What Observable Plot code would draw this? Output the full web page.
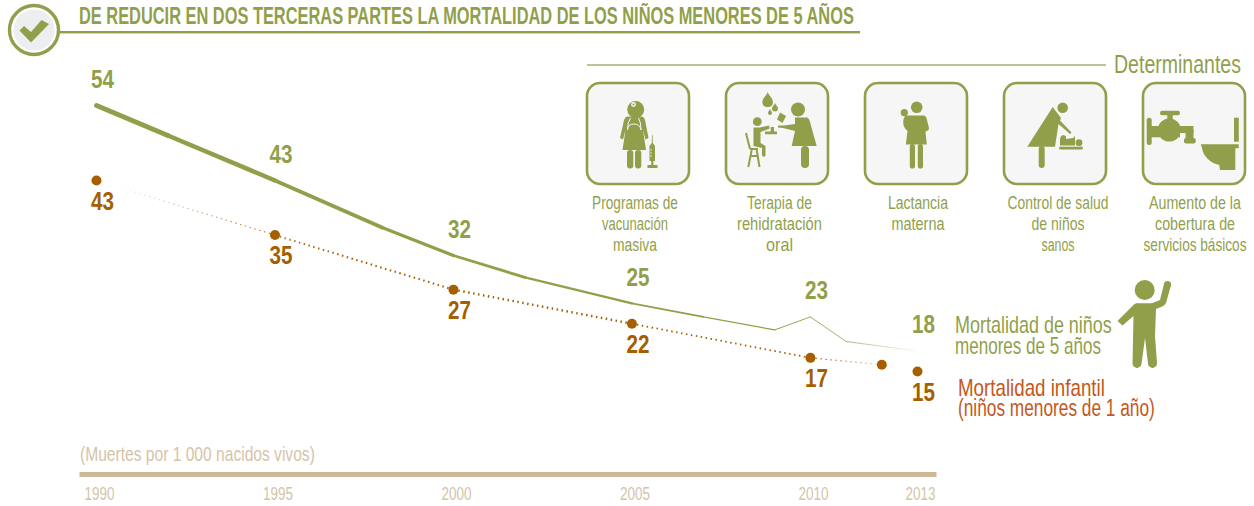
<!DOCTYPE html>
<html lang="es">
<head>
<meta charset="utf-8">
<style>
html,body{margin:0;padding:0;background:#fff}
svg{display:block}
</style>
<script src="https://cdn.jsdelivr.net/npm/d3@7"></script>
<script src="https://cdn.jsdelivr.net/npm/@observablehq/plot@0.6"></script>
</head>
<body>
<div id="chart"></div>
<script>
const childYears  = [1990, 1992, 1995, 1998, 2000, 2002, 2005, 2007, 2009, 2010, 2011, 2013];
const childValues = [54, 49.6, 43, 36.1, 32, 28.8, 25, 23, 21.1, 23, 19.4, 18];
const infantYears  = [1990, 1995, 2000, 2005, 2010, 2012, 2013];
const infantValues = [43, 35, 27, 22, 17, 16, 15];
const labelYears = [1990, 1995, 2000, 2005, 2010, 2013];
const childLabels  = [54, 43, 32, 25, 23, 18];
const infantLabels = [43, 35, 27, 22, 17, 15];
const tickYears = [1990, 1995, 2000, 2005, 2010, 2013];
const titleText = "DE REDUCIR EN DOS TERCERAS PARTES LA MORTALIDAD DE LOS NIÑOS MENORES DE 5 AÑOS";
const unitText = "(Muertes por 1 000 nacidos vivos)";
const determinantsText = "Determinantes";
const determinantLabels = [
  ["Programas de", "vacunación", "masiva"],
  ["Terapia de", "rehidratación", "oral"],
  ["Lactancia", "materna"],
  ["Control de salud", "de niños", "sanos"],
  ["Aumento de la", "cobertura de", "servicios básicos"]
];
const childSeriesLabel = ["Mortalidad de niños", "menores de 5 años"];
const infantSeriesLabel = ["Mortalidad infantil", "(niños menores de 1 año)"];

const GREEN = "#919f4b", BROWN = "#a65f00", ORANGE = "#c4571b", TAN = "#cbb998", TANTXT = "#d2c5a9";
const FONT = "'Liberation Sans',Arial,sans-serif";

const childWidth = d3.scaleLinear([1990, 1995, 2000, 2005, 2009, 2013], [5, 4.2, 3, 2, 1, .9]);
const infantWidth = d3.scaleLinear([1990, 1995, 2000, 2005, 2010, 2013], [.7, 1.6, 2.6, 2.2, 1.4, 1]);

const segments = (xs, ys, w) => d3.pairs(xs.map((x, i) => ({x, y: ys[i]})))
  .map(([a, b]) => ({x1: a.x, y1: a.y, x2: b.x, y2: b.y, w: w((a.x + b.x) / 2)}));

const svgText = (x, y, s, size, color, o = {}) =>
  `<text transform="translate(${x},${y})" font-size="${size}" fill="${color}" text-anchor="${o.anchor || "start"}" font-weight="${o.weight || 400}"` +
  (o.len ? ` data-len="${o.len}"` : "") + `>${s}</text>`;

function gradient(id, color, stops) {
  return `<linearGradient id="${id}" gradientUnits="userSpaceOnUse" x1="96" y1="0" x2="917" y2="0">` +
    stops.map(([o, a]) => `<stop offset="${o}" stop-color="${color}" stop-opacity="${a}"/>`).join("") + `</linearGradient>`;
}

const boxX = [587, 726, 865, 1004, 1143];
const boxLabelX = [635, 779.5, 918, 1058, 1195];
const boxLabelLen = [[86, 66, 44], [65, 85, 27], [60, 53], [101, 53, 33], [92, 80, 103]];

const icons = `
<g fill="${GREEN}" stroke="none">
  <!-- vacunacion -->
  <circle cx="635.7" cy="109.5" r="8.5"/>
  <circle cx="633.5" cy="104.5" r="2.4" fill="#f6f6f6"/><circle cx="633.5" cy="104.5" r="1" />
  <path d="M627 116.5 H642 Q644.5 117 645 120 L648.5 138 L645.5 139.5 L643 130 L646 150 H622.5 L625.5 130 L623 139.5 L620 138 L624 120 Q625 117 627 116.5Z"/>
  <rect x="627" y="150" width="6.3" height="18.5" rx="3"/><rect x="635" y="150" width="6.3" height="18.5" rx="3"/>
  <path d="M630.5 118 Q627.5 122 627.5 130 M638.5 118 Q641 122 641 130 M627.5 130 Q627.5 124 634 124 Q640 124 641 130" fill="none" stroke="#f6f6f6" stroke-width="1"/>
  <path d="M652 135 L652.6 135 L652.8 143 L655 146 V161 H653.4 V165 H657.5 V168 H647.5 V165 H651.2 V161 H649.5 V146 L651.8 143Z"/>
  <path d="M650 150 H652 M650 153 H652 M650 156 H652" stroke="#f6f6f6" stroke-width=".7" fill="none"/>
  <!-- rehidratacion -->
  <path d="M767.7 92 C769 96 773 98 773 102.5 A5.4 5.4 0 0 1 762.3 102.5 C762.3 98 766.4 96 767.7 92Z"/>
  <path d="M775 103 C775.6 105 778 106.5 778 108.5 A3 3 0 0 1 772 108.5 C772 106.5 774.4 105 775 103Z"/>
  <path d="M770 109 C770.4 110.5 772 111.5 772 113 A2 2 0 0 1 768 113 C768 111.5 769.6 110.5 770 109Z"/>
  <path d="M780 112.5 L786 116 L782.5 123 L777 119.5Z"/>
  <circle cx="798" cy="109.5" r="7"/>
  <path d="M795 117.5 H807 Q809 118 810 122 L816.7 146 H791.7 L795 131 L783 128 L778 127.5 V125.5 L784 125.5 L795 124Z"/>
  <rect x="801" y="146" width="8" height="22" rx="4"/>
  <circle cx="757.3" cy="121.7" r="4.4"/>
  <path d="M753.5 127.5 H760 L769 125.5 L769.7 128.5 L760.5 132 V143 L765.5 146 L765.5 155 A1.7 1.7 0 0 1 762 155 V148 L753.5 146Z"/>
  <path d="M770.7 127 H774 V131.5 H777 V134.3 H765 V131.5 H770.7Z"/>
  <path d="M746 133 L750 149 M750 149 H758 M751.7 150 L748.3 167 M756.7 150 L759.5 167 M750.5 156 H758" fill="none" stroke="${GREEN}" stroke-width="2"/>
  <!-- lactancia -->
  <circle cx="916.7" cy="107.3" r="5.8"/><circle cx="904.3" cy="112.7" r="3.6"/>
  <path d="M906 115.5 H924 Q926 116 926.5 118 L929 128 Q929 130.5 925.5 131.5 L926.8 144.5 H905.8 L907.5 131 Q903.3 128 903.2 122 Q903.5 116.5 906 115.5Z"/>
  <rect x="909.8" y="144" width="5.2" height="24.5" rx="2.6"/><rect x="917.8" y="144" width="5.2" height="24.5" rx="2.6"/>
  <!-- control -->
  <circle cx="1062.7" cy="107.7" r="5.3"/>
  <path d="M1052.7 107 L1061 118 L1060 120.5 L1071.5 132.5 L1070 134 L1058.5 124 L1055 146.7 H1027.3Z"/>
  <rect x="1038.7" y="146" width="6" height="22" rx="3"/>
  <circle cx="1079" cy="142.7" r="3.4"/>
  <path d="M1060 145.5 V140 Q1060 136 1063 135 L1066 136 L1066 139 L1073 138 L1075 136 V145.5Z"/>
  <rect x="1059.3" y="146.7" width="23.4" height="2.8"/>
  <!-- servicios -->
  <rect x="1146.7" y="117.7" width="5" height="27.3" rx="2.5"/>
  <rect x="1150" y="126" width="30" height="11.3"/>
  <circle cx="1169.3" cy="130" r="11.5"/>
  <rect x="1160" y="110.8" width="20" height="4.4" rx="2.2"/><rect x="1167.3" y="115" width="5.4" height="10"/>
  <rect x="1175" y="126" width="18.5" height="7"/><rect x="1185.5" y="130" width="8" height="10"/>
  <rect x="1184" y="138" width="11.7" height="5.5" rx="2"/>
  <rect x="1234" y="117.7" width="4.8" height="24"/>
  <path d="M1200.7 144.3 H1238.7 V148.3 H1235.3 V170 H1220 L1219.3 165 C1210 163 1203 156 1202 148Z"/>
  <!-- nino -->
  <circle cx="1144.7" cy="290" r="10"/>
  <path d="M1136 303.3 H1152 L1160 300 L1164 284 L1171 285 L1166 303 Q1165 306 1156 309 L1155 336 L1157 363 A4.5 4.5 0 0 1 1148 363.8 L1145 338 L1141.5 363.8 A4.5 4.5 0 0 1 1132.5 363 L1133.5 316 L1122.5 325.5 L1117.5 321 L1134 304.5Z"/>
  <circle cx="1167.5" cy="284.5" r="3.6"/>
</g>`;

function decor(index, scales, values, dims) {
  const g = d3.create("svg:g").attr("font-family", FONT);
  g.html(`
    <defs>${gradient("childFade", GREEN, [[0, 1], [.83, 1], [.92, .75], [1, .05]])}
    ${gradient("infantFade", BROWN, [[0, 0], [.03, .05], [.15, .6], [.3, 1], [.87, 1], [.95, .3], [.98, 0]])}</defs>
    <rect x="60" y="31" width="800" height="2.4" fill="${GREEN}"/>
    <circle cx="34" cy="30" r="24.5" fill="#fff" stroke="${GREEN}" stroke-width="3.4"/>
    <circle cx="34" cy="30" r="20.5" fill="#eceef0"/>
    <path d="M19.5 30.5 L24 26 L31 32 L41.5 20 L49 24 L31 42.5Z" fill="${GREEN}"/>
    ${svgText(79, 24, titleText, 24, GREEN, {weight: 700, len: 775})}
    <rect x="587" y="64.4" width="519" height="1.2" fill="${GREEN}"/>
    ${svgText(1114, 73, determinantsText, 26, GREEN, {len: 127})}
    ${boxX.map(x => `<rect x="${x}" y="83" width="102" height="101" rx="13" fill="#f6f6f6" stroke="${GREEN}" stroke-width="2.6"/>`).join("")}
    ${icons}
    ${determinantLabels.map((lines, i) => lines.map((s, j) =>
      svgText(boxLabelX[i], 209 + j * 21, s, 18.5, GREEN, {anchor: "middle", len: boxLabelLen[i][j]})).join("")).join("")}
    ${svgText(955, 333, childSeriesLabel[0], 23, GREEN, {len: 157})}
    ${svgText(955, 354, childSeriesLabel[1], 23, GREEN, {len: 146})}
    ${svgText(958, 396, infantSeriesLabel[0], 23, ORANGE, {len: 147})}
    ${svgText(958, 416, infantSeriesLabel[1], 23, ORANGE, {len: 197})}
    ${svgText(80, 461, unitText, 21, TANTXT, {len: 235})}
  `);
  return g.node();
}

const infantPts = infantYears.map((year, i) => ({year, value: infantValues[i]}));
const childLbl = labelYears.map((year, i) => ({year, value: childLabels[i], point: childValues[childYears.indexOf(year)]}));
const infantLbl = labelYears.map((year, i) => ({year, value: infantLabels[i], point: infantValues[infantYears.indexOf(year)]}));

const chart = Plot.plot({
  width: 1254, height: 506,
  marginTop: 0, marginLeft: 81.5, marginRight: 320.5, marginBottom: 32,
  style: {fontFamily: FONT, background: "#fff", overflow: "visible"},
  x: {domain: [1990, 2013], range: [96, 917], label: null},
  y: {domain: [43, 15], range: [180, 371], axis: null},
  marks: [
    decor,
    Plot.frame({anchor: "bottom", stroke: TAN, strokeWidth: 5}),
    Plot.axisX({ticks: tickYears, tickFormat: d => String(d), tickSize: 0, tickPadding: 12, fontSize: 19, fill: TANTXT, dx: 3, label: null}),
    Plot.link(segments(childYears, childValues, childWidth), {
      x1: "x1", y1: "y1", x2: "x2", y2: "y2",
      stroke: "url(#childFade)", strokeWidth: "w", strokeLinecap: "round"
    }),
    Plot.link(segments(infantYears, infantValues, infantWidth), {
      x1: "x1", y1: "y1", x2: "x2", y2: "y2",
      stroke: "url(#infantFade)", strokeWidth: "w", strokeDasharray: "1.5 3.5"
    }),
    Plot.dot(infantPts, {x: "year", y: "value", r: 5, fill: BROWN}),
    Plot.text(childLbl, {x: "year", y: "point", text: "value", dx: 6, dy: -26, fill: GREEN, fontSize: 26, fontWeight: 700}),
    Plot.text(infantLbl, {x: "year", y: "point", text: "value", dx: 6, dy: 21, fill: BROWN, fontSize: 26, fontWeight: 700})
  ]
});
document.getElementById("chart").append(chart);

// No condensed face is installed: narrow the glyphs horizontally to the reference's text widths.
function squeeze(el, len) {
  const k = len / el.getComputedTextLength();
  el.setAttribute("transform", `${el.getAttribute("transform") || ""} scale(${k},1)`);
}
chart.querySelectorAll("text[data-len]").forEach(el => squeeze(el, +el.dataset.len));
chart.querySelectorAll('g[aria-label="x-axis tick label"] text').forEach(el => squeeze(el, 30));
chart.querySelectorAll('g[aria-label="text"] text').forEach(el => squeeze(el, 23));
</script>
</body>
</html>
